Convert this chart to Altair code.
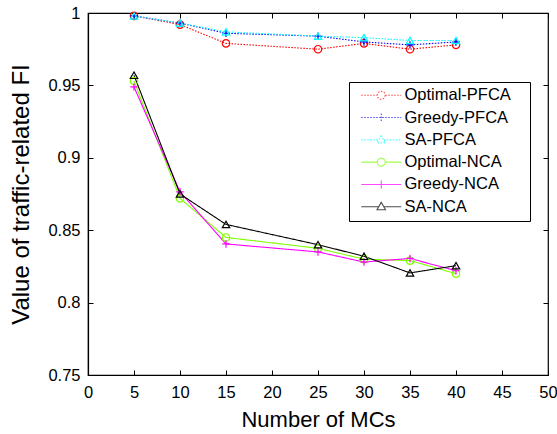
import altair as alt
import pandas as pd

# ---------------- data ----------------
mcs = [5, 10, 15, 25, 30, 35, 40]
series_names = ["Optimal-PFCA", "Greedy-PFCA", "SA-PFCA",
                "Optimal-NCA", "Greedy-NCA", "SA-NCA"]
optimal_pfca = [0.998, 0.992, 0.979, 0.975, 0.979, 0.975, 0.978]
greedy_pfca = [0.998, 0.993, 0.986, 0.984, 0.980, 0.978, 0.980]
sa_pfca = [0.998, 0.993, 0.987, 0.984, 0.983, 0.981, 0.981]
optimal_nca = [0.953, 0.872, 0.845, 0.8375, 0.830, 0.829, 0.820]
greedy_nca = [0.949, 0.8765, 0.8405, 0.835, 0.828, 0.8305, 0.822]
sa_nca = [0.957, 0.875, 0.854, 0.840, 0.832, 0.8205, 0.8255]
series_values = [optimal_pfca, greedy_pfca, sa_pfca, optimal_nca, greedy_nca, sa_nca]

x_ticks = [0, 5, 10, 15, 20, 25, 30, 35, 40, 45, 50]
y_ticks = [0.75, 0.8, 0.85, 0.9, 0.95, 1.0]

# ---------------- styles ----------------
series_colors = ["#ff0000", "#0000ff", "#00ffff", "#7fff00", "#ff00ff", "#000000"]
dotted = [1.5, 1.5]
solid = [1, 0]
series_dashes = [dotted, dotted, dotted, solid, solid, solid]
plus_path = "M-1,0L1,0M0,-1L0,1"
marker_shapes = ["circle", plus_path, "triangle-up", "circle", plus_path, "triangle-up"]
leg_circle = "M-4,0L-0.8,0M0.8,0L4,0M0.8,0A0.8,0.8,0,1,1,-0.8,0A0.8,0.8,0,1,1,0.8,0"
leg_plus = "M-4,0L4,0M0,-0.8L0,0.8"
leg_tri = "M-4,0L-0.5,0M0.5,0L4,0M0,-0.9L0.85,0.6L-0.85,0.6Z"
legend_shapes = [leg_circle, leg_plus, leg_tri, leg_circle, leg_plus, leg_tri]

rows = []
for name, vals in zip(series_names, series_values):
    for x, y in zip(mcs, vals):
        rows.append({"series": name, "mcs": x, "value": y})
df = pd.DataFrame(rows)

FONT = "Liberation Sans"
W, H = 460, 362

x_scale = alt.Scale(domain=[0, 50], nice=False, zero=False)
y_scale = alt.Scale(domain=[0.75, 1.0], nice=False, zero=False)
color_scale = alt.Scale(domain=series_names, range=series_colors)
dash_scale = alt.Scale(domain=series_names, range=series_dashes)

x_axis = alt.Axis(values=x_ticks, title="Number of MCs", grid=False,
                  ticks=False, tickSize=0, labelPadding=9, labelFont=FONT,
                  labelFontSize=16.5, labelColor="black", titleFont=FONT,
                  titleFontSize=22, titleFontWeight="normal", titleColor="black",
                  titleY=44, titleBaseline="middle",
                  domainColor="black", labelFlush=False)
y_axis = alt.Axis(values=y_ticks, title="Value of traffic-related FI", grid=False,
                  format=".2~f", ticks=False, tickSize=0, labelPadding=8, labelFont=FONT,
                  labelFontSize=16.5, labelColor="black", titleFont=FONT,
                  titleFontSize=24, titleFontWeight="normal", titleColor="black",
                  titleX=-67, titleY=H / 2, titleAngle=270, titleBaseline="middle",
                  titleAlign="center", domainColor="black", labelFlush=False)


def tick_axis(orient, values, offset):
    return alt.Axis(orient=orient, values=values, labels=False, title=None, grid=False,
                    domain=False, ticks=True, tickSize=5, tickColor="black",
                    tickWidth=1, offset=offset)


base = alt.Chart(df)

lines = base.mark_line(strokeWidth=1.1).encode(
    x=alt.X("mcs:Q", scale=x_scale, axis=x_axis),
    y=alt.Y("value:Q", scale=y_scale, axis=y_axis),
    color=alt.Color("series:N", scale=color_scale, legend=None),
    strokeDash=alt.StrokeDash("series:N", scale=dash_scale, legend=None),
    detail="series:N",
)

points = base.mark_point(filled=False, size=55, strokeWidth=1.2, opacity=1).encode(
    x=alt.X("mcs:Q", scale=x_scale, axis=None),
    y=alt.Y("value:Q", scale=y_scale, axis=None),
    color=alt.Color("series:N", scale=color_scale, legend=None),
    shape=alt.Shape("series:N", scale=alt.Scale(domain=series_names, range=marker_shapes),
                    legend=None),
)

leg = alt.Legend(title=None, orient="none", legendX=261, legendY=69, padding=5,
                 strokeColor="black", fillColor="white", cornerRadius=0,
                 labelFont=FONT, labelFontSize=16.5, labelColor="black",
                 symbolOffset=19, labelOffset=15, rowPadding=5.3,
                 symbolStrokeWidth=1.1, symbolSize=100, labelLimit=300,
                 labelExpr="datum.label + '\u00a0\u00a0\u00a0\u200b'")

legend_layer = base.mark_point(filled=False, size=100, strokeWidth=1.1).encode(
    x=alt.X("mcs:Q", scale=x_scale, axis=None),
    y=alt.Y("value:Q", scale=y_scale, axis=None),
    color=alt.Color("series:N", scale=color_scale, legend=leg),
    shape=alt.Shape("series:N", scale=alt.Scale(domain=series_names, range=legend_shapes),
                    legend=leg),
    strokeDash=alt.StrokeDash("series:N", scale=dash_scale, legend=leg),
).transform_filter("false")

# inward ticks on bottom and left edges
ticks_in_1 = base.mark_point(opacity=0).encode(
    x=alt.X("mcs:Q", scale=x_scale, axis=tick_axis("top", x_ticks, -H)),
    y=alt.Y("value:Q", scale=y_scale, axis=tick_axis("right", y_ticks, -W)),
)
# inward ticks on top and right edges
ticks_in_2 = base.mark_point(opacity=0).encode(
    x=alt.X("mcs:Q", scale=x_scale, axis=tick_axis("bottom", x_ticks, -H)),
    y=alt.Y("value:Q", scale=y_scale, axis=tick_axis("left", y_ticks, -W)),
)

chart = alt.layer(lines, points, legend_layer, ticks_in_1, ticks_in_2).resolve_scale(
    color="independent", shape="independent", strokeDash="independent"
).resolve_axis(
    x="independent", y="independent"
).properties(
    width=W, height=H,
    autosize=alt.AutoSizeParams(type="none"),
    padding={"left": 88, "top": 13, "right": 9, "bottom": 59},
    background="white",
).configure_view(stroke="black", strokeWidth=1.2).configure_axis(domainWidth=1.2)

chart.save("out.html", embed_options={"renderer": "svg", "actions": False})
